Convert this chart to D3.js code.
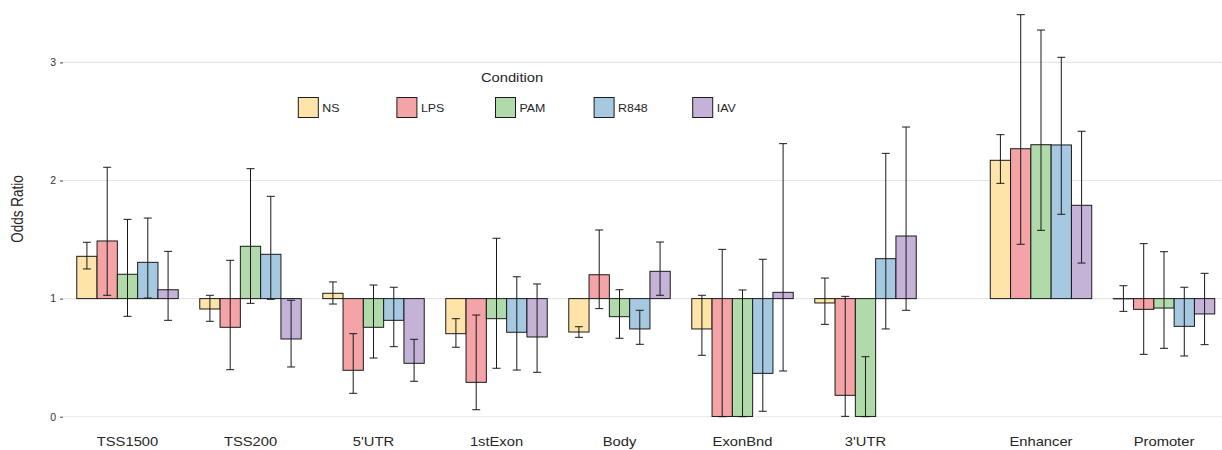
<!DOCTYPE html>
<html>
<head>
<meta charset="utf-8">
<script src="https://cdn.jsdelivr.net/npm/d3@7"></script>
<style>
  html, body { margin: 0; padding: 0; background: #fff; }
  svg { display: block; font-family: "Liberation Sans", Arial, Helvetica, sans-serif; }
</style>
</head>
<body>
<svg id="chart" width="1222" height="450"></svg>
<script>
// Genomic feature categories (gene-body features, then regulatory features)
const geneFeatures = ["TSS1500", "TSS200", "5'UTR", "1stExon", "Body", "ExonBnd", "3'UTR"];
const regFeatures = ["Enhancer", "Promoter"];
const categories = geneFeatures.concat(regFeatures);

// Stimulation conditions and their fills
const conditions = ["NS", "LPS", "PAM", "R848", "IAV"];
const condColors = ["#FEE4A9", "#F4A4A6", "#B0DAAA", "#A6C9E1", "#C4B2D7"];

// Odds ratios with lower / upper confidence limits, in category order
const NS_or   = [1.358, 0.912, 1.045, 0.703, 0.717, 0.743, 0.963, 2.171, 0.998];
const NS_lo   = [1.251, 0.808, 0.954, 0.588, 0.672, 0.520, 0.782, 1.976, 0.892];
const NS_hi   = [1.477, 1.028, 1.141, 0.830, 0.762, 1.028, 1.174, 2.388, 1.109];

const LPS_or  = [1.488, 0.757, 0.393, 0.291, 1.202, 0.002, 0.181, 2.269, 0.909];
const LPS_lo  = [1.028, 0.398, 0.198, 0.059, 0.915, 0.000, 0.003, 1.460, 0.528];
const LPS_hi  = [2.112, 1.324, 0.703, 0.861, 1.581, 1.417, 1.019, 3.404, 1.465];

const PAM_or  = [1.206, 1.443, 0.757, 0.830, 0.847, 0.002, 0.002, 2.303, 0.920];
const PAM_lo  = [0.850, 0.960, 0.497, 0.410, 0.664, 0.000, 0.000, 1.578, 0.579];
const PAM_hi  = [1.671, 2.100, 1.115, 1.511, 1.075, 1.073, 0.508, 3.274, 1.397];

const R848_or = [1.307, 1.375, 0.816, 0.715, 0.743, 0.367, 1.338, 2.301, 0.765];
const R848_lo = [1.005, 0.994, 0.593, 0.395, 0.613, 0.046, 0.743, 1.714, 0.514];
const R848_hi = [1.682, 1.866, 1.096, 1.185, 0.901, 1.333, 2.230, 3.043, 1.096];

const IAV_or  = [1.075, 0.658, 0.452, 0.675, 1.231, 1.053, 1.530, 1.790, 0.870];
const IAV_lo  = [0.816, 0.421, 0.300, 0.376, 1.028, 0.387, 0.901, 1.301, 0.610];
const IAV_hi  = [1.400, 0.986, 0.655, 1.124, 1.479, 2.312, 2.453, 2.417, 1.214];

const yTicks = [0, 1, 2, 3];
const baseline = 1;

const seriesOr = [NS_or, LPS_or, PAM_or, R848_or, IAV_or];
const seriesLo = [NS_lo, LPS_lo, PAM_lo, R848_lo, IAV_lo];
const seriesHi = [NS_hi, LPS_hi, PAM_hi, R848_hi, IAV_hi];

// Flat records for drawing
const records = [];
categories.forEach((cat, i) => {
  conditions.forEach((cond, j) => {
    records.push({ cat, cond, or: seriesOr[j][i], lo: seriesLo[j][i], hi: seriesHi[j][i] });
  });
});

const svg = d3.select("#chart");
const W = 1222;
const textStretch = 1.18;   // horizontal widening of the text glyphs
const textColor = "#262626";

// Scales: gene features and regulatory features share a step but sit in separate blocks
const xGene = d3.scaleBand().domain(geneFeatures).range([66, 927]).padding(0);
const xReg = d3.scaleBand().domain(regFeatures).range([979.5, 1225.5]).padding(0);
const groupX = c => (geneFeatures.includes(c) ? xGene(c) + xGene.bandwidth() / 2 : xReg(c) + xReg.bandwidth() / 2);
const groupWidth = xGene.bandwidth() * 0.825;
const xCond = d3.scaleBand().domain(conditions).range([-groupWidth / 2, groupWidth / 2]).padding(0);
const color = d3.scaleOrdinal().domain(conditions).range(condColors);

const y = d3.scaleLinear().domain([0, 3]).range([416.7, 62.4]);

// Gridlines and y axis
const plotLeft = 63;
const grid = svg.append("g");
grid.selectAll("line").data(yTicks).join("line")
  .attr("x1", plotLeft).attr("x2", W)
  .attr("y1", d => y(d)).attr("y2", d => y(d))
  .attr("stroke", "#e6e6e6").attr("stroke-width", 1.1);

const yAxis = svg.append("g").attr("transform", `translate(${plotLeft},0)`)
  .call(d3.axisLeft(y).tickValues(yTicks).tickFormat(d3.format("d")).tickSize(3).tickPadding(4));
yAxis.select(".domain").remove();
yAxis.selectAll(".tick line").attr("stroke", "#444").attr("stroke-width", 1);
yAxis.selectAll(".tick text")
  .attr("fill", "#333").attr("font-size", 10.5)
  .attr("font-family", "Liberation Sans, Arial, sans-serif");

// Y axis title
svg.append("text")
  .attr("transform", `translate(22.5,209) rotate(-90) scale(1,${textStretch})`)
  .attr("text-anchor", "middle")
  .attr("font-size", 13.5).attr("fill", textColor)
  .text("Odds Ratio");

// Bars from the baseline of 1
const bars = svg.append("g");
bars.selectAll("rect").data(records).join("rect")
  .attr("x", d => groupX(d.cat) + xCond(d.cond))
  .attr("width", xCond.bandwidth())
  .attr("y", d => y(Math.max(d.or, baseline)))
  .attr("height", d => Math.abs(y(d.or) - y(baseline)))
  .attr("fill", d => color(d.cond))
  .attr("stroke", "#1a1a1a").attr("stroke-width", 1);

// Error bars
const capHalf = 4;
const errs = svg.append("g").attr("stroke", "#1a1a1a").attr("stroke-width", 1).attr("fill", "none");
const eg = errs.selectAll("g").data(records).join("g")
  .attr("transform", d => `translate(${groupX(d.cat) + xCond(d.cond) + xCond.bandwidth() / 2},0)`);
eg.append("line").attr("x1", 0).attr("x2", 0).attr("y1", d => y(d.lo)).attr("y2", d => y(d.hi));
eg.append("line").attr("x1", -capHalf).attr("x2", capHalf).attr("y1", d => y(d.hi)).attr("y2", d => y(d.hi));
eg.append("line").attr("x1", -capHalf).attr("x2", capHalf).attr("y1", d => y(d.lo)).attr("y2", d => y(d.lo));

// Category labels
svg.append("g").selectAll("text").data(categories).join("text")
  .attr("transform", d => `translate(${groupX(d)},446) scale(${textStretch},1)`)
  .attr("text-anchor", "middle")
  .attr("font-size", 12.5).attr("fill", textColor)
  .text(d => d);

// Legend
const legend = svg.append("g");
legend.append("text")
  .attr("transform", `translate(512,82) scale(${textStretch},1)`)
  .attr("text-anchor", "middle").attr("font-size", 12.5).attr("fill", textColor)
  .text("Condition");
const legendX = d3.scaleLinear().domain([0, 1]).range([298.3, 298.3 + 98.6]);
const items = legend.selectAll("g.item").data(conditions).join("g")
  .attr("class", "item")
  .attr("transform", (d, i) => `translate(${legendX(i)},97.5)`);
items.append("rect")
  .attr("width", 20).attr("height", 20)
  .attr("fill", d => color(d)).attr("stroke", "#1a1a1a").attr("stroke-width", 1);
items.append("text")
  .attr("transform", `translate(24,14.5) scale(${textStretch},1)`)
  .attr("font-size", 10.5).attr("fill", textColor)
  .text(d => d);
</script>
</body>
</html>
